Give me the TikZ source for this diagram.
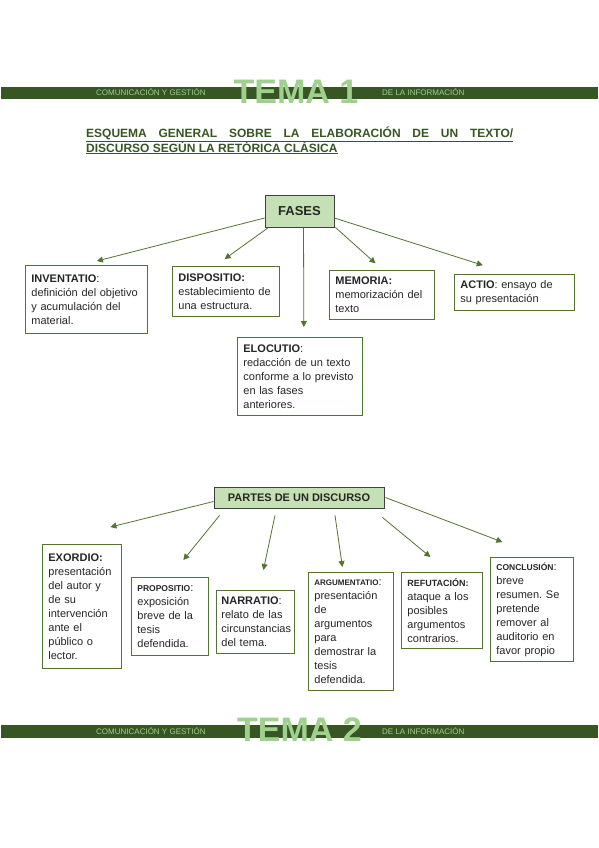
\documentclass[tikz,border=0pt]{standalone}
\usepackage{fontspec}
\setmainfont{Liberation Sans}
\usetikzlibrary{arrows.meta}
\definecolor{bandgreen}{RGB}{56,86,35}
\definecolor{temagreen}{RGB}{160,208,142}
\definecolor{linegreen}{RGB}{84,115,48}
\definecolor{fillgreen}{RGB}{197,224,180}
\definecolor{textgray}{RGB}{38,38,38}
\frenchspacing

\begin{document}
\begin{tikzpicture}[
        x=1pt, y=-1pt,
        band/.style={fill=bandgreen, draw=none},
        bandtext/.style={font=\fontsize{8}{9}\selectfont, text=temagreen, inner sep=0pt, anchor=base west},
        tema/.style={font=\fontsize{34}{36}\selectfont\bfseries, text=temagreen, inner sep=0pt, anchor=base},
        titulo/.style={font=\fontsize{12}{15}\selectfont\bfseries, text=bandgreen, inner sep=0pt, anchor=base west},
        header/.style={rectangle, draw=black!75, fill=fillgreen, font=\bfseries, text=textgray, inner sep=0pt, line width=0.8pt},
        fase/.style={rectangle, draw=linegreen, fill=white, align=left, anchor=north west, inner xsep=6pt, inner ysep=0pt, font=\fontsize{11}{14}\selectfont, text=textgray, line width=0.8pt},
        arrow/.style={-{Triangle[length=6pt,width=6pt]}, linegreen, line width=0.8pt}
    ]
        \fill[white] (0,0) rectangle (599,848);
        \useasboundingbox (0,0) rectangle (599,848);

        % Cabecera
        \fill[band] (1,87) rectangle (598,99);
        \node[tema] (tema1) at (296,103) {TEMA 1};
        \node[bandtext] (com1) at (96,96) {COMUNICACIÓN Y GESTIÓN};
        \node[bandtext] (inf1) at (382,96) {DE LA INFORMACIÓN};

        % Titulo
        \node[titulo] (titulo1) at (86,137) {\underline{\makebox[427pt][s]{ESQUEMA GENERAL SOBRE LA ELABORACIÓN DE UN TEXTO/}}};
        \node[titulo] (titulo2) at (86,152) {\underline{DISCURSO SEGÚN LA RETÓRICA CLÁSICA}};

        % Fases
        \node[header, minimum width=69pt, minimum height=32pt, font=\fontsize{13}{15}\selectfont\bfseries] (fases) at (299.5,211) {FASES};

        \node[fase, text width=110pt, minimum height=68pt] (inventatio) at (25,265) {\textbf{INVENTATIO}:\\definición del objetivo\\y acumulación del\\material.};
        \node[fase, text width=95pt, minimum height=50pt] (dispositio) at (172,266) {\textbf{DISPOSITIO:}\\establecimiento de\\una estructura.};
        \node[fase, text width=113pt, minimum height=78pt] (elocutio) at (237,337) {\textbf{ELOCUTIO}:\\redacción de un texto\\conforme a lo previsto\\en las fases\\anteriores.};
        \node[fase, text width=93pt, minimum height=49pt] (memoria) at (329,270) {\textbf{MEMORIA:}\\memorización del\\texto};
        \node[fase, text width=108pt, minimum height=36pt] (actio) at (454,274) {\textbf{ACTIO}: ensayo de\\su presentación};

        % Flechas fases
        \draw[arrow, shorten >=16pt] ([yshift=-7pt]fases.west) -- ([xshift=-5pt]inventatio.north);
        \draw[arrow, shorten >=12pt] ([xshift=4pt]fases.south west) -- ([xshift=-11pt]dispositio.north);
        \draw[arrow, shorten >=10pt] ([xshift=4pt]fases.south) -- ([xshift=4pt]elocutio.north);
        \draw[arrow, shorten >=10pt] ([xshift=1pt]fases.south east) -- ([xshift=1pt]memoria.north);
        \draw[arrow, shorten >=29pt] ([yshift=-7pt]fases.east) -- ([xshift=-4pt]actio.north);

        % Partes de un discurso
        \node[header, minimum width=170pt, minimum height=21pt, font=\fontsize{11}{13}\selectfont\bfseries] (partes) at (299,497.5) {PARTES DE UN DISCURSO};

        \node[fase, text width=67pt, minimum height=124pt] (exordio) at (42,544) {\textbf{EXORDIO:}\\presentación\\del autor y\\de su\\intervención\\ante el\\público o\\lector.};
        \node[fase, text width=65pt, minimum height=78pt] (propositio) at (131,577) {{\fontsize{8.5}{14}\selectfont\textbf{PROPOSITIO}}:\\exposición\\breve de la\\tesis\\defendida.};
        \node[fase, inner xsep=5pt, text width=68pt, minimum height=63pt] (narratio) at (216,590) {\textbf{NARRATIO}:\\relato de las\\circunstancias\\del tema.};
        \node[fase, text width=73pt, minimum height=118pt] (argumentatio) at (308,572) {{\fontsize{8}{14}\selectfont\textbf{ARGUMENTATIO}}:\\presentación\\de\\argumentos\\para\\demostrar la\\tesis\\defendida.};
        \node[fase, text width=69pt, minimum height=76pt] (refutacion) at (401,572) {{\fontsize{9}{14}\selectfont\textbf{REFUTACIÓN:}}\\ataque a los\\posibles\\argumentos\\contrarios.};
        \node[fase, text width=71pt, minimum height=104pt] (conclusion) at (490,557) {{\fontsize{8.5}{14}\selectfont\textbf{CONCLUSIÓN}}:\\breve\\resumen. Se\\pretende\\remover al\\auditorio en\\favor propio};

        % Flechas partes
        \draw[arrow] ([yshift=-4pt]partes.west) -- ([shift={(28.5pt,17pt)}]exordio.north);
        \draw[arrow] ([shift={(6pt,-7pt)}]partes.south west) -- ([shift={(13.5pt,17pt)}]propositio.north);
        \draw[arrow] ([shift={(-24pt,-7pt)}]partes.south) -- ([shift={(8pt,20pt)}]narratio.north);
        \draw[arrow] ([shift={(36pt,-7pt)}]partes.south) -- ([shift={(-8.5pt,5pt)}]argumentatio.north);
        \draw[arrow] ([shift={(-2pt,-9pt)}]partes.south east) -- ([shift={(-11.5pt,15pt)}]refutacion.north);
        \draw[arrow] ([xshift=1pt]partes.east) -- ([shift={(-29.5pt,15pt)}]conclusion.north);

        % Pie
        \fill[band] (1,725) rectangle (598,738);
        \node[tema] (tema2) at (299.5,741) {TEMA 2};
        \node[bandtext] (com2) at (96,734) {COMUNICACIÓN Y GESTIÓN};
        \node[bandtext] (inf2) at (382,734) {DE LA INFORMACIÓN};
    \end{tikzpicture}
\end{document}
